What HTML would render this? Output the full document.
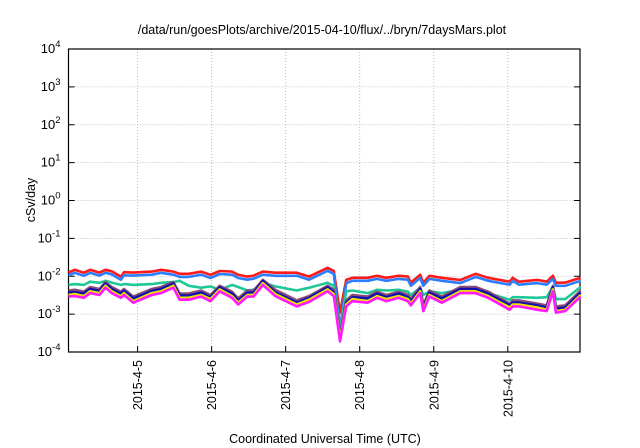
<!DOCTYPE html>
<html><head><meta charset="utf-8"><style>
body{margin:0;background:#fff;}
svg{display:block;font-family:"Liberation Sans",sans-serif;}
</style></head><body>
<svg id="chart" width="640" height="448" viewBox="0 0 640 448">
<text x="322" y="34" font-size="12.5" text-anchor="middle">/data/run/goesPlots/archive/2015-04-10/flux/../bryn/7daysMars.plot</text>
<g id="grid"></g>
<g id="axes"></g>
<g id="series"></g>
<text transform="translate(35,200) rotate(-90)" font-size="12.5" text-anchor="middle">cSv/day</text>
<text x="325" y="443" font-size="12.5" text-anchor="middle">Coordinated Universal Time (UTC)</text>
</svg>
<script>
const hours=[0,2,5,7,10,12,14,17,18,21,27,30,34,36,39,43,46,49,53,55,58,60,63,67,74,78,84,86,88,90,92,97,100,103,107,110,111,114,115,117,121,127,132,136,143,144,146,152,155,157,158,161,166];
const redVals=[1.25,1.48,1.24,1.48,1.25,1.48,1.35,0.98,1.28,1.25,1.33,1.48,1.33,1.16,1.16,1.33,1.09,1.38,1.33,1.09,0.98,1.04,1.33,1.24,1.24,0.98,1.67,1.38,0.11,0.80,0.91,0.91,1.03,0.91,1.03,0.98,0.68,1.09,0.67,1.03,0.91,0.80,1.16,0.91,0.72,0.91,0.72,0.80,0.72,1.03,0.67,0.68,0.91].map(v=>v*1e-2);
const blueVals=[1.04,1.23,1.03,1.23,1.04,1.23,1.12,0.81,1.06,1.04,1.10,1.23,1.10,0.96,0.96,1.10,0.90,1.15,1.10,0.90,0.81,0.86,1.10,1.03,1.03,0.81,1.39,1.15,0.042,0.66,0.76,0.76,0.85,0.76,0.85,0.81,0.56,0.90,0.56,0.85,0.76,0.66,0.96,0.76,0.60,0.76,0.60,0.66,0.60,0.85,0.56,0.56,0.76].map(v=>v*1e-2);
const tealVals=[5.9,6.2,5.9,7.2,6.7,7.6,6.8,5.9,6.2,5.9,6.2,6.7,7.0,7.6,5.6,5.0,5.4,4.4,5.9,5.2,4.2,4.4,6.8,5.4,4.2,5.0,6.7,5.6,0.34,4.0,4.2,3.6,4.4,4.2,4.4,3.9,3.2,5.0,3.2,4.0,3.6,4.4,4.6,3.6,2.4,2.8,2.8,2.7,2.8,5.4,2.5,2.5,5.2].map(v=>v*1e-3);
const mauveVals=[4.2,4.4,3.9,5.2,4.6,7.0,5.2,3.9,4.6,2.9,4.6,5.2,7.0,3.5,3.5,4.2,3.2,5.6,3.9,2.6,4.2,4.2,8.0,4.4,2.3,3.0,5.6,4.4,0.28,2.3,3.2,2.9,3.9,3.2,3.9,3.2,2.5,5.2,1.7,4.2,2.9,5.2,5.2,3.9,1.9,2.3,2.3,1.9,1.7,5.6,1.6,1.7,4.2].map(v=>v*1e-3);
const navyVals=[3.7,3.8,3.5,4.6,4.1,6.4,4.6,3.5,4.1,2.6,4.1,4.6,6.4,3.1,3.1,3.7,2.8,5.1,3.5,2.3,3.7,3.7,7.5,3.8,2.0,2.7,5.1,3.8,0.25,2.0,2.8,2.6,3.5,2.8,3.5,2.8,2.2,4.6,1.5,3.7,2.6,4.6,4.6,3.5,1.7,2.0,2.0,1.7,1.5,5.1,1.4,1.5,3.7].map(v=>v*1e-3);
const yellowVals=[3.2,3.4,3.0,4.0,3.6,5.6,4.0,3.0,3.6,2.2,3.6,4.0,5.6,2.7,2.7,3.2,2.5,4.5,3.0,2.0,3.2,3.2,6.6,3.4,1.8,2.4,4.5,3.4,0.22,1.8,2.5,2.2,3.0,2.5,3.0,2.5,1.9,4.0,1.3,3.2,2.2,4.0,4.0,3.0,1.5,1.8,1.8,1.5,1.3,4.5,1.2,1.3,3.2].map(v=>v*1e-3);
const magentaVals=[2.9,3.0,2.7,3.6,3.2,5.0,3.6,2.7,3.2,2.0,3.2,3.6,5.0,2.4,2.4,2.9,2.2,4.0,2.7,1.8,2.9,2.9,5.9,3.0,1.6,2.1,4.0,3.0,0.19,1.6,2.2,2.0,2.7,2.2,2.7,2.2,1.7,3.6,1.2,2.9,2.0,3.6,3.6,2.7,1.3,1.6,1.6,1.3,1.2,4.0,1.1,1.2,2.9].map(v=>v*1e-3);
const yExponents=[-4,-3,-2,-1,0,1,2,3,4];
const xTickLabels=["2015-4-5","2015-4-6","2015-4-7","2015-4-8","2015-4-9","2015-4-10"];
const xTickHours=[22.4,46.4,70.4,94.4,118.4,142.4];

const L=68.5,R=580,T=49,B=352,XMAX=165.8;
const NS="http://www.w3.org/2000/svg";
function X(h){return L+(R-L)*h/XMAX;}
function Y(v){return T+(4-Math.log10(v))*(B-T)/8;}
function mk(tag,attrs,parent){const e=document.createElementNS(NS,tag);for(const k in attrs)e.setAttribute(k,attrs[k]);parent.appendChild(e);return e;}
const grid=document.getElementById('grid'),axes=document.getElementById('axes'),ser=document.getElementById('series');
yExponents.forEach(ex=>{
  const y=Y(Math.pow(10,ex));
  if(ex>-4&&ex<4){const g=mk('line',{x1:L,x2:R,y1:y,y2:y,stroke:'#aaa','stroke-width':0.8,'stroke-dasharray':'1,2'},grid);
  
  }
  const t1=mk('line',{x1:L,x2:L+6,y1:y,y2:y,stroke:'#000'},axes);
  
  
  const t2=mk('line',{x1:R-6,x2:R,y1:y,y2:y,stroke:'#000'},axes);
  
  
  const tx=mk('text',{x:L-8,y:y+4,'font-size':'13','text-anchor':'end'},axes);
  
  
  tx.appendChild(document.createTextNode('10'));
  const sp=mk('tspan',{dy:-6,'font-size':'9.5'},tx);sp.textContent=String(ex);
});
xTickHours.forEach((h,i)=>{
  const x=X(h);
  const g=mk('line',{x1:x,x2:x,y1:T,y2:B,stroke:'#aaa','stroke-width':0.8,'stroke-dasharray':'1,2'},grid);
  
  
  const t=mk('line',{x1:x,x2:x,y1:B-6,y2:B,stroke:'#000'},axes);
  
  
  const tx=mk('text',{transform:`translate(${x+4.5},${B+8}) rotate(-90)`,'font-size':'12.5','text-anchor':'end'},axes);
  
  
  tx.textContent=xTickLabels[i];
});
const frame=mk('rect',{x:L,y:T,width:R-L,height:B-T,fill:'none',stroke:'#000','stroke-width':1.2},axes);


const list=[[redVals,'#ff1a1a','series-red'],[blueVals,'#2b7fff','series-blue'],[tealVals,'#1fc896','series-teal'],[mauveVals,'#8a4c78','series-mauve'],[navyVals,'#1010b0','series-navy'],[yellowVals,'#f2e200','series-yellow'],[magentaVals,'#ff1aff','series-magenta']];
list.forEach(([vals,col,name])=>{
  const d=vals.map((v,i)=>(i?'L':'M')+X(hours[i]).toFixed(1)+','+Y(v).toFixed(1)).join('');
  const p=mk('path',{d:d,fill:'none',stroke:col,'stroke-width':2.6,'stroke-linejoin':'round'},ser);
  
  
});
</script>
</body></html>
